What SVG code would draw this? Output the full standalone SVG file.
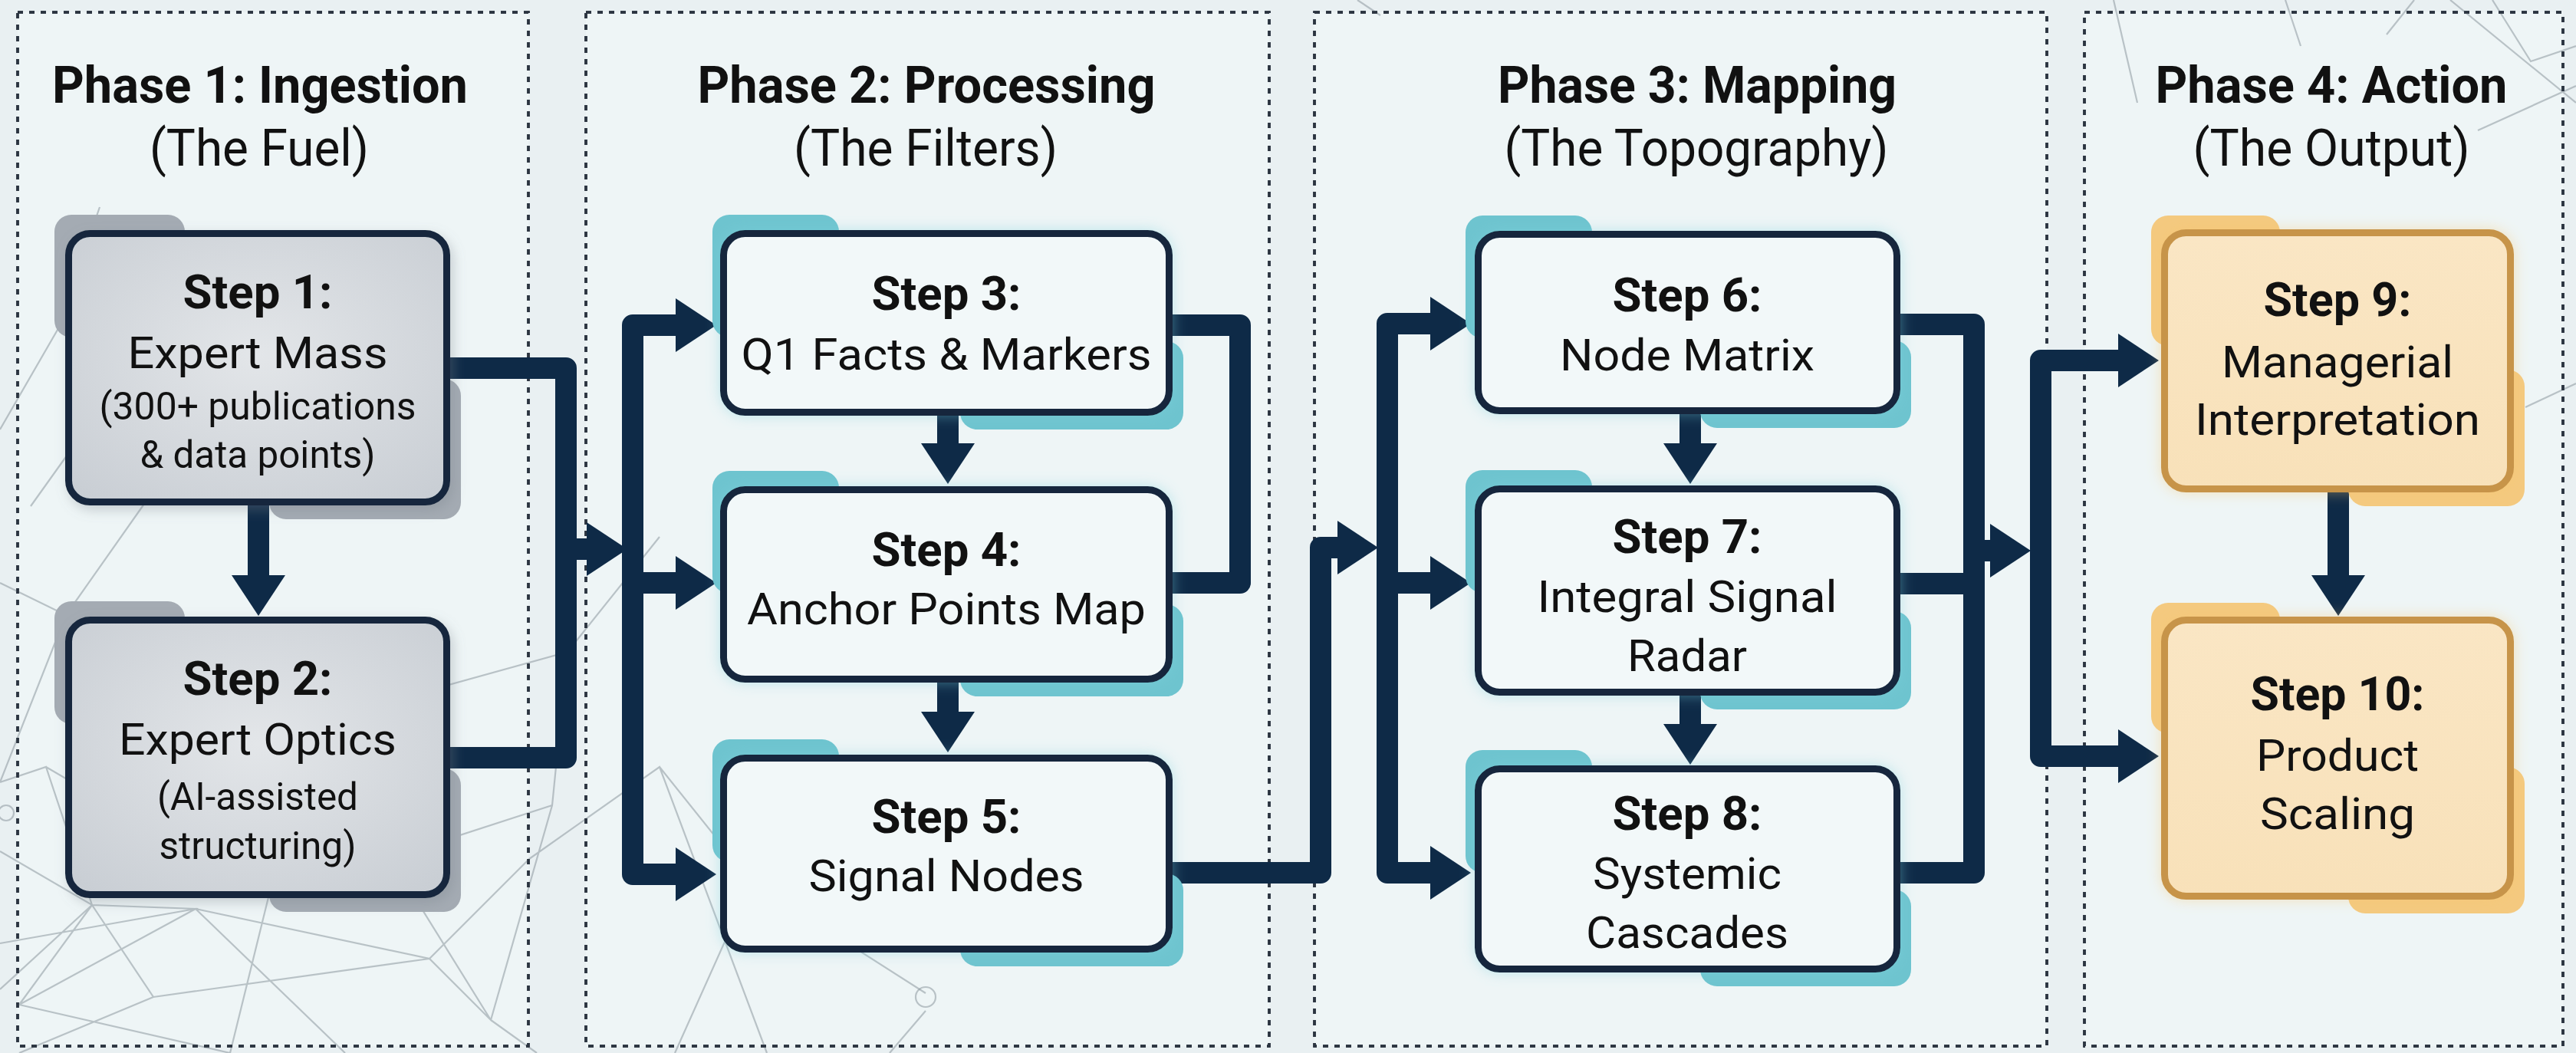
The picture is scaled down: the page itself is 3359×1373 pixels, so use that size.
<svg xmlns="http://www.w3.org/2000/svg" width="3359" height="1373" viewBox="0 0 3359 1373">
<defs>
<style>
.bg{fill:#e9f0f2}
.panel{fill:#eef5f6;stroke:#2b3440;stroke-width:3.5;stroke-dasharray:7 8}
.pframe{fill:none;stroke:#2b3440;stroke-width:3.5;stroke-dasharray:7 8}
.net{stroke:#8d979f;stroke-width:2.2;fill:none;opacity:0.55}
.title{font-family:Roboto,"Liberation Sans",sans-serif;font-weight:700;font-size:66px;fill:#111;text-anchor:middle}
.sub{font-family:Roboto,"Liberation Sans",sans-serif;font-weight:400;font-size:66px;fill:#111;text-anchor:middle}
.st{font-family:Roboto,"Liberation Sans",sans-serif;font-weight:700;font-size:62px;fill:#111;text-anchor:middle}
.tx{font-family:Roboto,"Liberation Sans",sans-serif;font-weight:400;font-size:58px;fill:#111;text-anchor:middle}
.sm{font-family:Roboto,"Liberation Sans",sans-serif;font-weight:400;font-size:50px;fill:#111;text-anchor:middle}
.box{stroke:#12263d;stroke-width:9}
.gray .box{fill:url(#gGray)}
.gray .sh{fill:#a4abb3}
.teal .box{fill:#f2f8f9}
.teal .sh{fill:#6ec4cf}
.orange .box{fill:url(#gOr);stroke:#c7944a}
.orange .sh{fill:#f4c97f}
.con{fill:none;stroke:#0e2a47;stroke-width:28;stroke-linejoin:round;stroke-linecap:butt}
.arr{marker-end:url(#ah)}
</style>
<radialGradient id="gGray" cx="0.5" cy="0.45" r="0.7">
<stop offset="0" stop-color="#e3e6e9"/><stop offset="1" stop-color="#c9ced4"/>
</radialGradient>
<linearGradient id="gOr" x1="0" y1="0" x2="0" y2="1">
<stop offset="0" stop-color="#fae6c4"/><stop offset="1" stop-color="#f8e1b9"/>
</linearGradient>
<filter id="glowT" x="-10%" y="-10%" width="120%" height="120%">
<feDropShadow dx="0" dy="0" stdDeviation="9" flood-color="#7fd0dc" flood-opacity="0.45"/>
</filter>
<filter id="glowG" x="-10%" y="-10%" width="120%" height="120%">
<feDropShadow dx="4" dy="6" stdDeviation="8" flood-color="#7a838c" flood-opacity="0.35"/>
</filter>
<filter id="glowO" x="-10%" y="-10%" width="120%" height="120%">
<feDropShadow dx="0" dy="0" stdDeviation="9" flood-color="#f6c66e" flood-opacity="0.45"/>
</filter>
<marker id="ah" markerUnits="userSpaceOnUse" markerWidth="56" markerHeight="72" refX="0" refY="35" orient="auto">
<path d="M0,0 L53,35 L0,70 z" fill="#0e2a47"/>
</marker>
</defs>

<rect class="bg" x="0" y="0" width="3359" height="1373"/>

<g id="panel-fills">
<rect class="panel" x="23" y="16" width="666" height="1348" stroke="none"/>
<rect class="panel" x="764" y="16" width="891" height="1348" stroke="none"/>
<rect class="panel" x="1714" y="16" width="955" height="1348" stroke="none"/>
<rect class="panel" x="2718" y="16" width="624" height="1348" stroke="none"/>
</g>

<g id="background-network">
<path class="net" d="M0,760 L86,802 L0,1020 M86,802 L200,640 M0,560 L75,430 L130,270 M40,660 L140,520 M0,1020 L60,1000 L120,1180 L25,1310 L255,1185 L120,1180 L0,1110 M255,1185 L560,1250 L640,1330 L720,1050 L740,850 M255,1185 L450,1373 M350,1170 L300,1373 M350,1170 L720,1050 M25,1310 L300,1373 M200,1300 L560,1250 M60,1000 L350,1170 L460,1040 L640,1330 M120,1180 L200,1300 L25,1373 M560,1250 L690,1120 M460,1040 L560,900 L740,850 L860,700 M690,1120 L860,1000 L1000,1373 M860,1000 L980,1150 L1207,1295 M1207,1318 L1160,1373 M980,1150 L880,1373 M0,1230 L255,1185 M0,1290 L120,1180 M640,1330 L700,1373"/>
<circle class="net" cx="1207" cy="1300" r="13"/>
<circle class="net" cx="8" cy="1060" r="10"/>
<path class="net" d="M2756,0 L2787,134 M3112,45 L3148,0 M3195,0 L3359,134 M3231,170 L3359,112 M3293,531 L3359,500 M3250,0 L3300,80 L3359,60 M2980,0 L3000,60 M1770,0 L1800,20"/>
</g>

<g id="panels">
<rect class="pframe" x="23" y="16" width="666" height="1348"/>
<rect class="pframe" x="764" y="16" width="891" height="1348"/>
<rect class="pframe" x="1714" y="16" width="955" height="1348"/>
<rect class="pframe" x="2718" y="16" width="624" height="1348"/>
</g>

<g id="phase-titles">
<text class="title" x="339" y="134" textLength="542" lengthAdjust="spacingAndGlyphs">Phase 1: Ingestion</text>
<text class="sub" x="338" y="216" textLength="286" lengthAdjust="spacingAndGlyphs">(The Fuel)</text>
<text class="title" x="1208" y="134" textLength="597" lengthAdjust="spacingAndGlyphs">Phase 2: Processing</text>
<text class="sub" x="1207" y="216" textLength="344" lengthAdjust="spacingAndGlyphs">(The Filters)</text>
<text class="title" x="2213" y="134" textLength="520" lengthAdjust="spacingAndGlyphs">Phase 3: Mapping</text>
<text class="sub" x="2212" y="216" textLength="501" lengthAdjust="spacingAndGlyphs">(The Topography)</text>
<text class="title" x="3040" y="134" textLength="459" lengthAdjust="spacingAndGlyphs">Phase 4: Action</text>
<text class="sub" x="3040" y="216" textLength="361" lengthAdjust="spacingAndGlyphs">(The Output)</text>
</g>

<g id="connectors">
<path class="con" d="M587,480 H738 V988 H587"/>
<path class="con arr" d="M738,716 H765"/>
<path class="con arr" d="M337,659 V750"/>
<path class="con arr" d="M825,600 V424 H881"/>
<path class="con arr" d="M825,600 V1140 H881"/>
<path class="con arr" d="M825,760 H881"/>
<path class="con arr" d="M1236,542 V578"/>
<path class="con arr" d="M1236,890 V928"/>
<path class="con" d="M1529,424 H1617 V760 H1529"/>
<path class="con arr" d="M1529,1138 H1722 V714 H1744"/>
<path class="con arr" d="M1809,600 V422 H1865"/>
<path class="con arr" d="M1809,600 V1138 H1865"/>
<path class="con arr" d="M1809,760 H1865"/>
<path class="con arr" d="M2204,540 V578"/>
<path class="con arr" d="M2204,907 V944"/>
<path class="con" d="M2478,423 H2574 V1138 H2478"/>
<path class="con" d="M2478,761 H2574"/>
<path class="con arr" d="M2574,718 H2595"/>
<path class="con arr" d="M2661,700 V470 H2762"/>
<path class="con arr" d="M2661,700 V986 H2762"/>
<path class="con arr" d="M3049,642 V750"/>
</g>

<g id="step1" class="node gray">
<rect class="sh" x="71" y="280" width="170" height="160" rx="22"/>
<rect class="sh" x="351" y="494" width="250" height="183" rx="22"/>
<rect class="box" x="89.5" y="304.5" width="493" height="350" rx="28" filter="url(#glowG)"/>
<text class="st" x="336" y="402" textLength="195" lengthAdjust="spacingAndGlyphs">Step 1:</text>
<text class="tx" x="336" y="480" textLength="339" lengthAdjust="spacingAndGlyphs">Expert Mass</text>
<text class="sm" x="336" y="547" textLength="413" lengthAdjust="spacingAndGlyphs">(300+ publications</text>
<text class="sm" x="336" y="610" textLength="307" lengthAdjust="spacingAndGlyphs">&amp; data points)</text>
</g>

<g id="step2" class="node gray">
<rect class="sh" x="71" y="784" width="170" height="160" rx="22"/>
<rect class="sh" x="351" y="1002" width="250" height="187" rx="22"/>
<rect class="box" x="89.5" y="808.5" width="493" height="358" rx="28" filter="url(#glowG)"/>
<text class="st" x="336" y="906" textLength="195" lengthAdjust="spacingAndGlyphs">Step 2:</text>
<text class="tx" x="336" y="984" textLength="362" lengthAdjust="spacingAndGlyphs">Expert Optics</text>
<text class="sm" x="336" y="1056" textLength="262" lengthAdjust="spacingAndGlyphs">(AI-assisted</text>
<text class="sm" x="336" y="1120" textLength="257" lengthAdjust="spacingAndGlyphs">structuring)</text>
</g>

<g id="step3" class="node teal">
<rect class="sh" x="929" y="280" width="165" height="160" rx="22"/>
<rect class="sh" x="1252" y="445" width="291" height="115" rx="22"/>
<rect class="box" x="943.5" y="304.5" width="581" height="233" rx="28" filter="url(#glowT)"/>
<text class="st" x="1234" y="404" textLength="195" lengthAdjust="spacingAndGlyphs">Step 3:</text>
<text class="tx" x="1234" y="482" textLength="535" lengthAdjust="spacingAndGlyphs">Q1 Facts &amp; Markers</text>
</g>

<g id="step4" class="node teal">
<rect class="sh" x="929" y="614" width="165" height="160" rx="22"/>
<rect class="sh" x="1252" y="788" width="291" height="120" rx="22"/>
<rect class="box" x="943.5" y="638.5" width="581" height="247" rx="28" filter="url(#glowT)"/>
<text class="st" x="1234" y="738" textLength="195" lengthAdjust="spacingAndGlyphs">Step 4:</text>
<text class="tx" x="1234" y="814" textLength="520" lengthAdjust="spacingAndGlyphs">Anchor Points Map</text>
</g>

<g id="step5" class="node teal">
<rect class="sh" x="929" y="964" width="165" height="160" rx="22"/>
<rect class="sh" x="1252" y="1139" width="291" height="121" rx="22"/>
<rect class="box" x="943.5" y="988.5" width="581" height="249" rx="28" filter="url(#glowT)"/>
<text class="st" x="1234" y="1086" textLength="195" lengthAdjust="spacingAndGlyphs">Step 5:</text>
<text class="tx" x="1234" y="1162" textLength="359" lengthAdjust="spacingAndGlyphs">Signal Nodes</text>
</g>

<g id="step6" class="node teal">
<rect class="sh" x="1911" y="281" width="165" height="160" rx="22"/>
<rect class="sh" x="2217" y="444" width="275" height="114" rx="22"/>
<rect class="box" x="1927.5" y="305.5" width="546" height="230" rx="28" filter="url(#glowT)"/>
<text class="st" x="2200" y="406" textLength="195" lengthAdjust="spacingAndGlyphs">Step 6:</text>
<text class="tx" x="2200" y="483" textLength="332" lengthAdjust="spacingAndGlyphs">Node Matrix</text>
</g>

<g id="step7" class="node teal">
<rect class="sh" x="1911" y="613" width="165" height="160" rx="22"/>
<rect class="sh" x="2217" y="797" width="275" height="128" rx="22"/>
<rect class="box" x="1927.5" y="637.5" width="546" height="265" rx="28" filter="url(#glowT)"/>
<text class="st" x="2200" y="721" textLength="195" lengthAdjust="spacingAndGlyphs">Step 7:</text>
<text class="tx" x="2200" y="798" textLength="391" lengthAdjust="spacingAndGlyphs">Integral Signal</text>
<text class="tx" x="2200" y="875" textLength="156" lengthAdjust="spacingAndGlyphs">Radar</text>
</g>

<g id="step8" class="node teal">
<rect class="sh" x="1911" y="978" width="165" height="160" rx="22"/>
<rect class="sh" x="2217" y="1160" width="275" height="126" rx="22"/>
<rect class="box" x="1927.5" y="1002.5" width="546" height="261" rx="28" filter="url(#glowT)"/>
<text class="st" x="2200" y="1082" textLength="195" lengthAdjust="spacingAndGlyphs">Step 8:</text>
<text class="tx" x="2200" y="1159" textLength="246" lengthAdjust="spacingAndGlyphs">Systemic</text>
<text class="tx" x="2200" y="1236" textLength="264" lengthAdjust="spacingAndGlyphs">Cascades</text>
</g>

<g id="step9" class="node orange">
<rect class="sh" x="2805" y="281" width="168" height="170" rx="22"/>
<rect class="sh" x="3062" y="482" width="230" height="178" rx="22"/>
<rect class="box" x="2822.5" y="303.5" width="451" height="334" rx="28" filter="url(#glowO)"/>
<text class="st" x="3048" y="412" textLength="193" lengthAdjust="spacingAndGlyphs">Step 9:</text>
<text class="tx" x="3048" y="492" textLength="302" lengthAdjust="spacingAndGlyphs">Managerial</text>
<text class="tx" x="3048" y="567" textLength="372" lengthAdjust="spacingAndGlyphs">Interpretation</text>
</g>

<g id="step10" class="node orange">
<rect class="sh" x="2805" y="786" width="168" height="170" rx="22"/>
<rect class="sh" x="3062" y="1000" width="230" height="191" rx="22"/>
<rect class="box" x="2822.5" y="808.5" width="451" height="360" rx="28" filter="url(#glowO)"/>
<text class="st" x="3048" y="926" textLength="227" lengthAdjust="spacingAndGlyphs">Step 10:</text>
<text class="tx" x="3048" y="1005" textLength="212" lengthAdjust="spacingAndGlyphs">Product</text>
<text class="tx" x="3048" y="1081" textLength="202" lengthAdjust="spacingAndGlyphs">Scaling</text>
</g>
</svg>
